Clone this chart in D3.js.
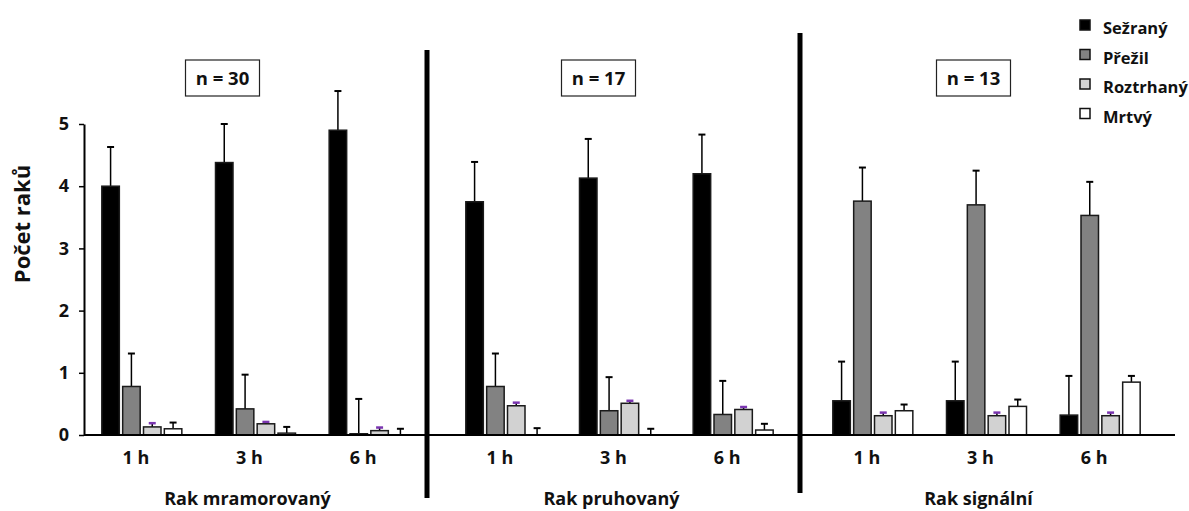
<!DOCTYPE html>
<html lang="cs">
<head>
<meta charset="utf-8">
<script src="https://cdn.jsdelivr.net/npm/d3@7"></script>
<style>
  html, body { margin: 0; padding: 0; background: #fff; }
  svg { display: block; font-family: "Open Sans", "DejaVu Sans", sans-serif; font-weight: 700; }
</style>
</head>
<body>
<svg id="chart" width="1189" height="511"></svg>
<script>
// Groups, time points and series
const panels = ["Rak mramorovaný", "Rak pruhovaný", "Rak signální"];
const sampleSizes = ["n = 30", "n = 17", "n = 13"];
const times = ["1 h", "3 h", "6 h"];
const seriesNames = ["Sežraný", "Přežil", "Roztrhaný", "Mrtvý"];
const yTicks = [0, 1, 2, 3, 4, 5];

// Mean values, ordered panel by panel (1 h, 3 h, 6 h within each panel)
const eaten     = [4.00, 4.38, 4.90,  3.75, 4.13, 4.20,  0.55, 0.55, 0.32];
const survived  = [0.78, 0.42, 0.02,  0.78, 0.39, 0.33,  3.76, 3.70, 3.53];
const torn      = [0.13, 0.18, 0.07,  0.47, 0.51, 0.41,  0.31, 0.31, 0.31];
const dead      = [0.10, 0.03, 0.00,  0.00, 0.00, 0.08,  0.39, 0.46, 0.85];

// Upper error (length of whisker above the mean)
const eatenErr    = [0.63, 0.62, 0.63,  0.64, 0.63, 0.63,  0.63, 0.63, 0.63];
const survivedErr = [0.53, 0.55, 0.56,  0.53, 0.54, 0.54,  0.54, 0.55, 0.54];
const tornErr     = [0.06, 0.03, 0.05,  0.05, 0.04, 0.04,  0.05, 0.05, 0.05];
const deadErr     = [0.10, 0.10, 0.10,  0.11, 0.10, 0.10,  0.10, 0.11, 0.10];

const seriesValues = [eaten, survived, torn, dead];
const seriesErrors = [eatenErr, survivedErr, tornErr, deadErr];

// Styling
const fills = ["#000000", "#828282", "#d2d2d2", "#ffffff"];
const capColors = ["#000", "#000", "#7a35b0", "#000"];
const font = 18;

const svg = d3.select("#chart");
svg.append("rect").attr("width", 1189).attr("height", 511).attr("fill", "#fff");

// Layout
const axisX = 84;
const panelRanges = [[85, 426], [449, 790], [816, 1157]];
const separators = [{x: 427, y1: 50, y2: 498}, {x: 800, y1: 33, y2: 493}];
const baselineEnds = [[axisX, 427], [427, 800], [800, 1175]];
const boxDx = [-33, -21, -13];

const y = d3.scaleLinear().domain([0, 5]).range([435, 124]);

const xPanels = panelRanges.map(r =>
  d3.scaleBand().domain(times).range(r).paddingInner(0).paddingOuter(0));
const xSeries = d3.scaleBand().domain(seriesNames).range([-40, 40]).paddingInner(0.16);
const bw = xSeries.bandwidth();

// Flatten into drawable records
const records = [];
panels.forEach((p, pi) => {
  times.forEach((t, ti) => {
    seriesNames.forEach((s, si) => {
      const idx = pi * times.length + ti;
      const cx = xPanels[pi](t) + xPanels[pi].bandwidth() / 2 + xSeries(s) + bw / 2;
      records.push({panel: pi, time: t, series: s, si, cx,
        value: seriesValues[si][idx], err: seriesErrors[si][idx]});
    });
  });
});

// Y axis
const yAxis = svg.append("g")
  .attr("transform", `translate(${axisX},0)`)
  .call(d3.axisLeft(y).tickValues(yTicks).tickFormat(d3.format("d"))
    .tickSize(5).tickSizeOuter(0).tickPadding(10));
yAxis.select(".domain").attr("stroke", "#000").attr("stroke-width", 2);
yAxis.selectAll(".tick line").attr("stroke", "#000").attr("stroke-width", 1.5);
yAxis.selectAll(".tick text")
  .attr("fill", "#111").style("font-size", font + "px").style("font-weight", 700)
  .style("font-family", "'Open Sans', sans-serif");

svg.append("text")
  .attr("transform", `translate(30,224) rotate(-90)`)
  .attr("text-anchor", "middle")
  .style("font-size", "22px")
  .attr("fill", "#111")
  .text("Počet raků");

// Error bars (drawn first so the bars sit on top of the stems)
const eb = svg.append("g").selectAll("g").data(records).join("g");
eb.append("line")
  .attr("x1", d => d.cx).attr("x2", d => d.cx)
  .attr("y1", d => y(d.value)).attr("y2", d => y(d.value + d.err))
  .attr("stroke", "#000").attr("stroke-width", 1.5);
eb.append("line")
  .attr("x1", d => d.cx - 3.5).attr("x2", d => d.cx + 3.5)
  .attr("y1", d => y(d.value + d.err)).attr("y2", d => y(d.value + d.err))
  .attr("stroke", d => capColors[d.si])
  .attr("stroke-width", d => d.si === 2 ? 2.5 : 2);

// Bars
svg.append("g").selectAll("rect").data(records).join("rect")
  .attr("x", d => d.cx - bw / 2)
  .attr("width", bw)
  .attr("y", d => y(d.value))
  .attr("height", d => y(0) - y(d.value))
  .attr("fill", d => fills[d.si])
  .attr("stroke", "#1a1a1a")
  .attr("stroke-width", 1.5);

// Baselines and panel separators
svg.append("g").selectAll("line").data(baselineEnds).join("line")
  .attr("x1", d => d[0]).attr("x2", d => d[1])
  .attr("y1", y(0)).attr("y2", y(0))
  .attr("stroke", "#000").attr("stroke-width", 2);

svg.append("g").selectAll("line").data(separators).join("line")
  .attr("x1", d => d.x).attr("x2", d => d.x)
  .attr("y1", d => d.y1).attr("y2", d => d.y2)
  .attr("stroke", "#000").attr("stroke-width", 5);

// Time labels, panel names and sample-size boxes
panels.forEach((p, pi) => {
  const xs = xPanels[pi];
  const g = svg.append("g");
  g.selectAll("text.time").data(times).join("text")
    .attr("class", "time")
    .attr("x", d => xs(d) + xs.bandwidth() / 2 - 6)
    .attr("y", 464)
    .attr("text-anchor", "middle")
    .style("font-size", font + "px")
    .attr("fill", "#111")
    .text(d => d);

  const mid = xs(times[1]) + xs.bandwidth() / 2;
  g.append("text")
    .attr("x", mid - 8).attr("y", 505)
    .attr("text-anchor", "middle")
    .style("font-size", font + "px")
    .attr("fill", "#111")
    .text(p);

  const bx = mid + boxDx[pi];
  g.append("rect")
    .attr("x", bx - 37).attr("y", 60).attr("width", 74).attr("height", 36)
    .attr("fill", "#fff").attr("stroke", "#222").attr("stroke-width", 1.2);
  g.append("text")
    .attr("x", bx).attr("y", 85)
    .attr("text-anchor", "middle")
    .style("font-size", "18.5px")
    .attr("fill", "#111")
    .text(sampleSizes[pi]);
});

// Legend
const legend = svg.append("g").attr("transform", "translate(1080,20)");
const li = legend.selectAll("g").data(seriesNames).join("g")
  .attr("transform", (d, i) => `translate(0,${i * 29.5})`);
li.append("rect")
  .attr("width", 10).attr("height", 10)
  .attr("fill", (d, i) => fills[i])
  .attr("stroke", "#111").attr("stroke-width", 1.5);
li.append("text")
  .attr("x", 23).attr("y", 14)
  .style("font-size", "16.5px")
  .attr("fill", "#111")
  .text(d => d);
</script>
</body>
</html>
